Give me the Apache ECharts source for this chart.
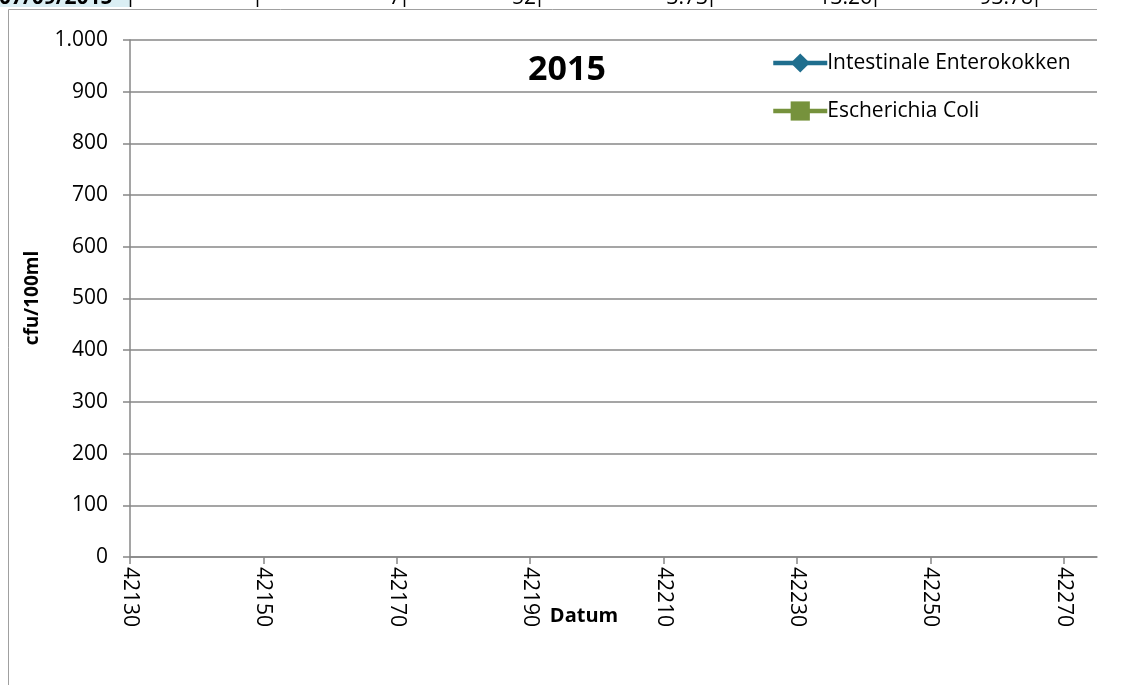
<!DOCTYPE html>
<html>
<head>
<meta charset="utf-8">
<script src="https://cdn.jsdelivr.net/npm/echarts@6/dist/echarts.min.js"></script>
<style>
html,body{margin:0;padding:0;background:#fff;}
#c{width:1121px;height:685px;}
</style>
</head>
<body>
<div id="c"></div>
<script>
// ---- data ----
var chartTitle = '2015';
var seriesNames = ['Intestinale Enterokokken', 'Escherichia Coli'];
var enterokokken = [];   // no visible points in the chart
var escherichiaColi = []; // no visible points in the chart
var xTicks = [42130, 42150, 42170, 42190, 42210, 42230, 42250, 42270];
var xMin = 42130, xMax = 42275;
var yMin = 0, yMax = 1000, yStep = 100;
var tableRow = ['07/09/2015', '7', '52', '3.73', '13.26', '93.78'];
var tableCellRight = [130, 404, 539, 711, 875, 1036];
var tableSeparators = [130, 257, 404, 539, 711, 875, 1036];

var FONT = '"Open Sans", "Noto Sans", sans-serif';
var GRAY = '#878787';
var BLUE = '#1f6e8e';
var GREEN = '#76923c';

function fmtDE(v) {
  return String(v).replace(/\B(?=(\d{3})+(?!\d))/g, '.');
}

var chart = echarts.init(document.getElementById('c'), null, {renderer: 'canvas'});

var graphics = [];
// chart border (left + top)
graphics.push({type: 'line', shape: {x1: 8.5, y1: 9.5, x2: 8.5, y2: 685}, style: {stroke: '#a0a0a0', lineWidth: 1}, silent: true});
graphics.push({type: 'line', shape: {x1: 8.5, y1: 9.5, x2: 1097, y2: 9.5}, style: {stroke: '#a0a0a0', lineWidth: 1}, silent: true});
// clipped worksheet row above the chart
graphics.push({type: 'rect', shape: {x: 0, y: 0, width: 130, height: 7}, style: {fill: '#daeef3'}, silent: true});
tableRow.forEach(function (t, i) {
  graphics.push({
    type: 'text', silent: true,
    style: {
      text: t,
      x: i === 0 ? -1 : tableCellRight[i] - 3,
      y: -2,
      align: i === 0 ? 'left' : 'right',
      verticalAlign: 'middle',
      font: (i === 0 ? 'bold ' : '') + '21px ' + FONT,
      fill: '#000'
    }
  });
});
tableSeparators.forEach(function (x) {
  graphics.push({type: 'line', shape: {x1: x + 0.5, y1: 0, x2: x + 0.5, y2: 7}, style: {stroke: '#000', lineWidth: 1.5}, silent: true});
});
// title
graphics.push({type: 'text', silent: true, style: {text: chartTitle, x: 567, y: 70, align: 'center', verticalAlign: 'middle', font: 'bold 34px ' + FONT, fill: '#000'}});
// axis titles
graphics.push({type: 'text', silent: true, rotation: Math.PI / 2, x: 33, y: 298, style: {text: 'cfu/100ml', x: 0, y: 0, align: 'center', verticalAlign: 'middle', font: 'bold 19px ' + FONT, fill: '#000'}});
graphics.push({type: 'text', silent: true, style: {text: 'Datum', x: 584, y: 616, align: 'center', verticalAlign: 'middle', font: 'bold 20px ' + FONT, fill: '#000'}});

var option = {
  animation: false,
  backgroundColor: '#fff',
  grid: {left: 130, top: 40, right: 24, bottom: 128, containLabel: false},
  legend: {
    orient: 'vertical',
    left: 771,
    top: 51,
    padding: 0,
    itemWidth: 54,
    itemHeight: 24,
    itemGap: 24,
    lineStyle: {width: 4.5},
    textStyle: {fontFamily: FONT, fontSize: 21, color: '#000', lineHeight: 24, padding: [0, 0, 0, -5]},
    data: seriesNames
  },
  xAxis: {
    type: 'value',
    min: xMin,
    max: xMax,
    splitLine: {show: false},
    axisLine: {show: true, lineStyle: {color: GRAY, width: 1.5}},
    axisTick: {show: true, length: 7, inside: false, lineStyle: {color: GRAY, width: 1.5}, customValues: xTicks},
    axisLabel: {
      rotate: -90, margin: 10, customValues: xTicks,
      fontFamily: FONT, fontSize: 21, color: '#000',
      formatter: function (v) { return String(v); }
    }
  },
  yAxis: {
    type: 'value',
    min: yMin,
    max: yMax,
    interval: yStep,
    splitLine: {show: true, lineStyle: {color: GRAY, width: 1.5}},
    axisLine: {show: true, lineStyle: {color: GRAY, width: 1.5}},
    axisTick: {show: true, length: 7, lineStyle: {color: GRAY, width: 1.5}},
    axisLabel: {margin: 22, fontFamily: FONT, fontSize: 21, color: '#000', formatter: function (v) { return fmtDE(v); }}
  },
  series: [
    {
      name: seriesNames[0], type: 'line', data: enterokokken,
      symbol: 'diamond', symbolSize: 17,
      itemStyle: {color: BLUE}, lineStyle: {color: BLUE, width: 4.5}
    },
    {
      name: seriesNames[1], type: 'line', data: escherichiaColi,
      symbol: 'rect', symbolSize: 17,
      itemStyle: {color: GREEN}, lineStyle: {color: GREEN, width: 4.5}
    }
  ],
  graphic: graphics
};
chart.setOption(option);
</script>
</body>
</html>
